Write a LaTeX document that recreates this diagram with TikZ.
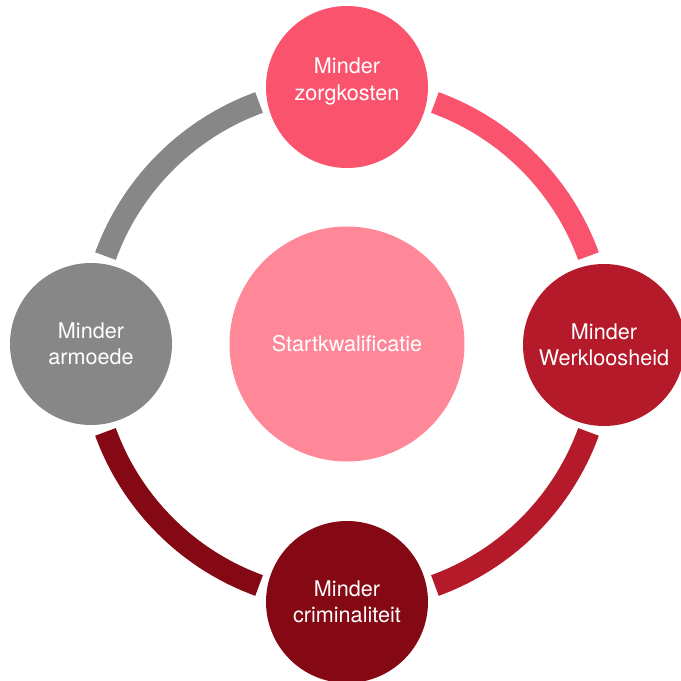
\documentclass[tikz,border=0pt]{standalone}
\usepackage{fontspec}
\setmainfont{TeX Gyre Heros}
\usetikzlibrary{positioning}

\definecolor{zorgcol}{RGB}{250,83,109}
\definecolor{werkcol}{RGB}{181,26,43}
\definecolor{crimcol}{RGB}{133,8,21}
\definecolor{armcol}{RGB}{135,135,135}
\definecolor{kwalcol}{RGB}{255,136,152}

\tikzset{
  bol/.style={circle,minimum size=81pt,inner sep=0pt,text=white,align=center,
    font=\fontsize{10.8pt}{13pt}\selectfont},
  ring/.style={line width=11pt,line cap=butt},
}

\begin{document}
\begin{tikzpicture}[x=1pt,y=1pt]
  \useasboundingbox (-173.5,-168.5) rectangle (167,172);

  % midden
  \node (kwal) at (0,0) [bol,fill=kwalcol,minimum size=117.5pt] {Startkwalificatie};

  % ring
  \foreach \a/\c in {20/zorgcol, -70/werkcol, 200/crimcol, 110/armcol}
    \draw[ring,\c] (kwal.center) ++(\a:128.5) arc[start angle=\a, end angle=\a+50, radius=128.5];

  % buitenste cirkels
  \node (zorg) at (0,128.5) [bol,fill=zorgcol] {\raisebox{0pt}[0pt][0pt]{\begin{tabular}{@{}c@{}}Minder\\[0.5pt]zorgkosten\end{tabular}}};
  \node (werk) at (128.5,-0.5) [bol,fill=werkcol] {Minder\\Werkloosheid};
  \node (crim) at (0,-129) [bol,fill=crimcol] {Minder\\criminaliteit};
  \node (arm) at (-128,0) [bol,fill=armcol] {Minder\\armoede};
\end{tikzpicture}
\end{document}
